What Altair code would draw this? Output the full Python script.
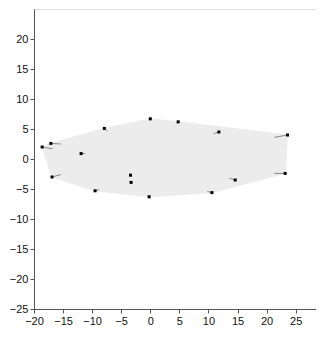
import altair as alt
import pandas as pd

# point positions (vector start) and vector ends
px = [-18.6, -17.1, -16.9, -11.9, -7.9, -9.5, -3.4, -3.3, 0.0, -0.2, 4.8, 11.8, 10.6, 14.6, 23.6, 23.2]
py = [2.0, 2.6, -3.0, 0.9, 5.1, -5.3, -2.7, -3.9, 6.7, -6.3, 6.2, 4.5, -5.6, -3.5, 4.0, -2.4]
ex = [-16.8, -15.4, -15.4, -11.2, -7.4, -8.8, -3.4, -3.6, 0.0, -0.2, 4.6, 10.9, 9.8, 13.6, 21.3, 21.3]
ey = [1.7, 2.5, -2.6, 0.9, 4.6, -5.1, -2.4, -3.7, 6.4, -6.0, 5.9, 4.2, -5.4, -3.2, 3.6, -2.4]

x_ticks = [-20, -15, -10, -5, 0, 5, 10, 15, 20, 25]
y_ticks = [-25, -20, -15, -10, -5, 0, 5, 10, 15, 20]


def hull(points):
    pts = sorted(set(points))
    def cross(o, a, b):
        return (a[0] - o[0]) * (b[1] - o[1]) - (a[1] - o[1]) * (b[0] - o[0])
    lower, upper = [], []
    for p in pts:
        while len(lower) >= 2 and cross(lower[-2], lower[-1], p) <= 0:
            lower.pop()
        lower.append(p)
    for p in reversed(pts):
        while len(upper) >= 2 and cross(upper[-2], upper[-1], p) <= 0:
            upper.pop()
        upper.append(p)
    return lower[:-1] + upper[:-1]


h = hull(list(zip(px, py)))
hull_df = pd.DataFrame({"x": [p[0] for p in h] + [h[0][0]],
                        "y": [p[1] for p in h] + [h[0][1]],
                        "o": list(range(len(h) + 1))})
pts_df = pd.DataFrame({"x": px, "y": py, "x2": ex, "y2": ey})

xs = alt.Scale(domain=[-20, 28.5], nice=False, zero=False)
ys = alt.Scale(domain=[-25, 25], nice=False, zero=False)
xaxis = alt.Axis(values=x_ticks, title=None)
yaxis = alt.Axis(values=y_ticks, title=None)

X = alt.X("x:Q", scale=xs, axis=xaxis)
Y = alt.Y("y:Q", scale=ys, axis=yaxis)

area = alt.Chart(hull_df).mark_line(filled=True, fill="#ececec", stroke="#ececec", strokeWidth=1).encode(
    x=X, y=Y, order="o:Q",
)

segs = alt.Chart(pts_df).mark_rule(color="#888888", strokeWidth=1).encode(
    x=X, y=Y, x2="x2:Q", y2="y2:Q"
)

marks = alt.Chart(pts_df).mark_point(shape="square", filled=True, color="#000000", size=9, opacity=1).encode(
    x=X, y=Y
)

chart = alt.layer(area, segs, marks).properties(
    width=282, height=300,
    autosize=alt.AutoSizeParams(type="none"),
    padding={"left": 26, "top": 1, "right": 0, "bottom": 16},
).configure_view(stroke=None).configure(background="white").configure_axis(
    grid=False, domainColor="#555555", tickColor="#555555", tickSize=4,
    labelFont="Liberation Sans", labelFontSize=11, labelColor="#111111",
    labelOverlap=False, labelFlush=False, labelPadding=2,
)

chart.save("out.html", embed_options={"renderer": "svg", "actions": False})
